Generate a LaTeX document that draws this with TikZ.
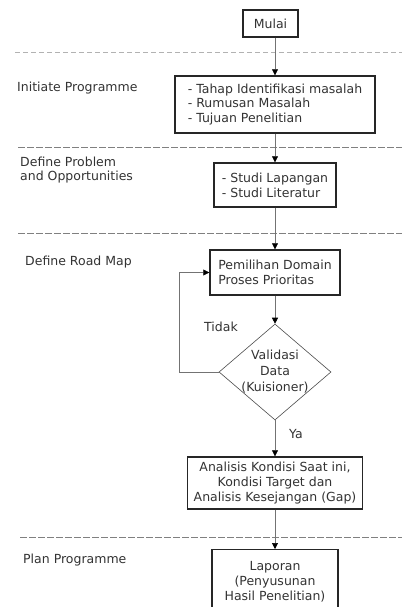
\documentclass[tikz,border=0pt]{standalone}
\usepackage{fontspec}
\setmainfont{DejaVu Sans}
\usetikzlibrary{arrows.meta,shapes.geometric}
\tikzset{
  fs/.style={font=\fontsize{12.5}{14.8}\selectfont},
  box/.style={draw=black!85, line width=1.4pt, inner sep=0pt, fs, text=black!80},
  lbl/.style={fs, text=black!80, inner sep=0pt},
  arr/.style={draw=black!55, line width=0.6pt, -{Triangle[length=6pt,width=6pt,color=black]}},
  sep/.style={draw=black!50, line width=0.9pt, dash pattern=on 7pt off 2pt},
  seplight/.style={draw=black!30, line width=0.9pt, dash pattern=on 5pt off 3pt}
}
\begin{document}
\begin{tikzpicture}[x=1pt,y=-1pt]
\useasboundingbox (0,0) rectangle (402,607);
\clip (0,0) rectangle (402,607);
\fill[white] (0,0) rectangle (402,607);

% separators
\draw[seplight] (15,52) -- (402,52);
\draw[sep] (18,147) -- (402,147);
\draw[sep] (18,233) -- (402,233);
\draw[sep] (20,537) -- (402,537);

% phase labels
\node[lbl, anchor=west] (l1) at (17,88) {Initiate Programme};
\node[lbl, anchor=west, align=left] (l2) at (20,170) {Define Problem\\and Opportunities};
\node[lbl, anchor=west] (l3) at (25,262) {Define Road Map};
\node[lbl, anchor=west] (l4) at (23,560) {Plan Programme};

% boxes
\node[box, minimum width=55, minimum height=27] (mulai) at (270.5,23.5) {Mulai};
\node[box, minimum width=200, minimum height=57, align=left] (b2) at (275,104.5)
  {- Tahap Identifikasi masalah\\- Rumusan Masalah\\- Tujuan Penelitian};
\node[box, minimum width=122, minimum height=44, align=left] (b3) at (275,185)
  {- Studi Lapangan\\- Studi Literatur};
\node[box, minimum width=130, minimum height=45, align=left] (b4) at (275,272.5)
  {Pemilihan Domain\\Proses Prioritas};
\node[diamond, draw=black!70, line width=0.6pt, minimum width=112, minimum height=96, inner sep=0pt] (dia) at (275,372) {};
\node[lbl, align=center, font=\fontsize{12.5}{16}\selectfont] (diat) at (275,372) {Validasi\\Data\\(Kuisioner)};
\node[box, minimum width=175, minimum height=52, align=center] (b5) at (275,483)
  {Analisis Kondisi Saat ini,\\Kondisi Target dan\\Analisis Kesejangan (Gap)};
\node[box, minimum width=126, minimum height=64, align=center, anchor=north] (b6) at (275,549)
  {Laporan\\(Penyusunan\\Hasil Penelitian)};

% labels on connectors
\node[lbl] (tidak) at (221,327) {Tidak};
\node[lbl] (ya) at (296,434) {Ya};

% connectors
\coordinate (lp) at (179,372);
\draw[arr] (b2.north |- mulai.south) -- (b2.north);
\draw[arr] (b2.south) -- (b3.north);
\draw[arr] (b3.south) -- (b4.north);
\draw[arr] (b4.south) -- (dia.north);
\draw[arr] (dia.west) -- (lp) |- (b4.west);
\draw[arr] (dia.south) -- (b5.north);
\draw[arr] (b5.south) -- (b6.north);
\end{tikzpicture}
\end{document}
